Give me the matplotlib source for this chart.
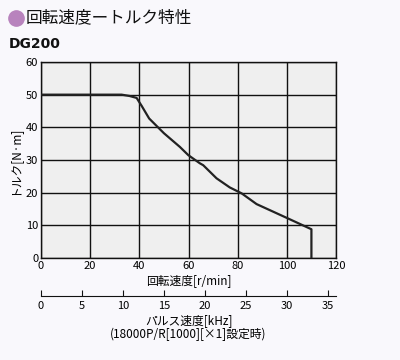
import matplotlib.pyplot as plt
from matplotlib.lines import Line2D

plt.rcParams['font.family'] = ['Noto Sans CJK JP', 'DejaVu Sans']

# torque curve (rpm vs N·m)
speed = [0, 32.8, 36, 38.9, 41, 44, 50, 56.5, 59.9, 64.6, 66, 71.4, 76.8, 81.6, 87.7, 100.5, 110, 110]
torque = [50, 50, 49.6, 49.0, 46.5, 42.7, 38.2, 34.0, 31.5, 29.0, 28.4, 24.4, 21.6, 19.8, 16.5, 12.1, 8.8, 0]

x_ticks = [0, 20, 40, 60, 80, 100, 120]
y_ticks = [0, 10, 20, 30, 40, 50, 60]
khz_ticks = [0, 5, 10, 15, 20, 25, 30, 35]

fig = plt.figure(figsize=(4, 3.6), dpi=100)
fig.patch.set_facecolor('#f9f8fc')

# title with purple dot
fig.add_artist(Line2D([0.04], [0.95], marker='o', markersize=11, color='#b883bd',
                      transform=fig.transFigure))
fig.text(0.063, 0.95, '回転速度ートルク特性', fontsize=12, va='center', color='#111')
fig.text(0.022, 0.877, 'DG200', fontsize=10, fontweight='bold', va='center',
         family='DejaVu Sans', color='#111')

ax = fig.add_axes([0.1025, 0.2833, 0.7375, 0.5445])
ax.set_facecolor('#efefef')
ax.plot(speed, torque, color='#222', lw=1.6, zorder=3)
ax.set_xlim(0, 120)
ax.set_ylim(0, 60)
ax.set_xticks(x_ticks)
ax.set_yticks(y_ticks)
ax.grid(True, color='#111', lw=1.0)
ax.tick_params(length=0, labelsize=8, pad=2)
for s in ax.spines.values():
    s.set_color('#111')
    s.set_linewidth(1.0)
ax.set_xlabel('回転速度[r/min]', fontsize=8.5, labelpad=2)
ax.set_ylabel('トルク[N·m]', fontsize=8.5, labelpad=4)

# pulse speed axis
ax2 = fig.add_axes([0.1025, 0.178, 0.7375, 0.001])
ax2.set_xlim(0, 36)
ax2.set_xticks(khz_ticks)
ax2.set_yticks([])
ax2.patch.set_alpha(0)
for k in ['top', 'left', 'right']:
    ax2.spines[k].set_visible(False)
ax2.spines['bottom'].set_color('#111')
ax2.tick_params(axis='x', direction='in', length=4, labelsize=8, pad=4, color='#111')
ax2.set_xlabel('パルス速度[kHz]\n(18000P/R[1000][×1]設定時)', fontsize=8.5,
               labelpad=2, linespacing=1.1)

fig.savefig('out.png', dpi=100, facecolor=fig.get_facecolor())
